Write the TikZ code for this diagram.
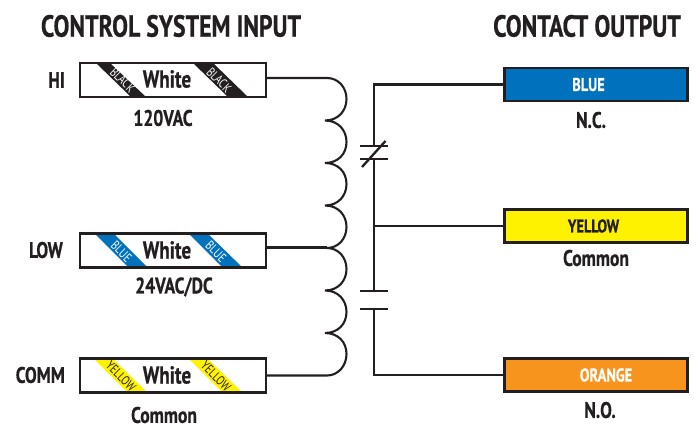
\documentclass[tikz,border=0pt]{standalone}
\usepackage{fontspec}
\setmainfont[FakeStretch=0.78,BoldFeatures={FakeBold=0.6}]{PT Sans}
\definecolor{ink}{HTML}{231F20}
\definecolor{wblue}{HTML}{0071BC}
\definecolor{wyellow}{HTML}{FFF200}
\definecolor{worange}{HTML}{F7941D}
\tikzset{
  wirebox/.style={draw=ink,line width=2.4pt,minimum width=186pt,minimum height=34pt,inner sep=0pt,outer sep=0pt,anchor=center},
  colbox/.style={draw=ink,line width=2.4pt,minimum width=183pt,minimum height=33pt,inner sep=0pt,outer sep=0pt,anchor=center},
  boxlab/.style={text=white,inner sep=0pt,font=\bfseries\fontsize{18.5}{18.5}\selectfont},
  wire/.style={draw=ink,line width=2.1pt},
  heavywire/.style={draw=ink,line width=3pt},
  bar/.style={draw=ink,line width=2.3pt},
  head/.style={text=ink,font=\bfseries\fontsize{30.5}{30.5}\selectfont,inner sep=0pt},
  lab/.style={text=ink,font=\bfseries\fontsize{22.5}{22.5}\selectfont,inner sep=0pt},
  mid/.style={text=ink,font=\bfseries\fontsize{24.5}{24.5}\selectfont,inner sep=0pt},
  stripetext/.style={font=\fontsize{13}{13}\selectfont,rotate=-45,inner sep=0pt},
}
\begin{document}
\begin{tikzpicture}[x=1pt,y=-1pt]
\useasboundingbox (0,0) rectangle (695,427);
\node[head] (h1) at (171,26) {CONTROL SYSTEM INPUT};
\node[head] (h2) at (587,26) {CONTACT OUTPUT};
% input boxes
\node[wirebox] (hi) at (173,80) {};
\node[wirebox] (low) at (173,250.5) {};
\node[wirebox] (comm) at (173,375.5) {};
% stripes
\fill[ink] (96,63) -- (110,63) -- (146,97) -- (131,97) -- cycle;
\fill[ink] (193,63) -- (213,63) -- (248,97) -- (228,97) -- cycle;
\fill[wblue] (95,234) -- (114,234) -- (148,268) -- (129,268) -- cycle;
\fill[wblue] (189,234) -- (208,234) -- (243,268) -- (223,268) -- cycle;
\fill[wyellow] (94,359) -- (113,359) -- (148,393) -- (128,393) -- cycle;
\fill[wyellow] (189,359) -- (208,359) -- (243,393) -- (223,393) -- cycle;
\draw[draw=ink,line width=2.4pt] (hi.north west) rectangle (hi.south east);
\draw[draw=ink,line width=2.4pt] (low.north west) rectangle (low.south east);
\draw[draw=ink,line width=2.4pt] (comm.north west) rectangle (comm.south east);
\node[stripetext,text=white] (s1) at (122.5,80) {BLACK};
\node[stripetext,text=white] (s2) at (219,80) {BLACK};
\node[stripetext,text=white] (s3) at (121.5,251.5) {BLUE};
\node[stripetext,text=white] (s4) at (216,251.5) {BLUE};
\node[stripetext,text=ink] (s5) at (121,376) {YELLOW};
\node[stripetext,text=ink] (s6) at (216,376) {YELLOW};
\node[mid] (w1) at (167,79) {White};
\node[mid] (w2) at (167,250) {White};
\node[mid] (w3) at (167,375) {White};
\node[lab,anchor=east] (lhi) at (65,80) {HI};
\node[lab,anchor=east] (llow) at (63,250) {LOW};
\node[lab,anchor=east] (lcomm) at (65,375) {COMM};
\node[lab] (l120) at (163,118) {120VAC};
\node[lab] (l24) at (174,287) {24VAC/DC};
\node[lab] (lcom) at (164,415) {Common};
% output boxes
\node[colbox,fill=wblue] (blue) at (596,84.5) {};
\node[colbox,fill=wyellow] (yellow) at (596,226) {};
\node[colbox,fill=worange] (orange) at (596,375) {};
\node[boxlab] (tblue) at (588.5,84.5) {BLUE};
\node[boxlab,text=ink] (tyellow) at (593.5,226) {YELLOW};
\node[boxlab] (torange) at (606,375) {ORANGE};
\node[lab] (nc) at (591,120) {N.C.};
\node[lab] (cm) at (596,258) {Common};
\node[lab] (no) at (600,410) {N.O.};
% coil
\coordinate (c0) at (327,78);
\coordinate (c1) at (325,120.5);
\coordinate (c2) at (325,163);
\coordinate (c3) at (325,205.5);
\coordinate (c4) at (327,248);
\coordinate (c5) at (325,290.5);
\coordinate (c6) at (325,333);
\coordinate (c7) at (327,375.5);
\draw[wire] (hi.east |- c0) -- (c0)
  .. controls (338,78) and (346.5,87) .. (346.5,99) .. controls (346.5,111) and (338,120.5) .. (c1)
  .. controls (338,120.5) and (346.5,130) .. (346.5,142) .. controls (346.5,154) and (338,163) .. (c2)
  .. controls (338,163) and (346.5,172) .. (346.5,184) .. controls (346.5,196) and (338,205.5) .. (c3)
  .. controls (338,205.5) and (346.5,215) .. (346.5,227) .. controls (346.5,239) and (338,248) .. (c4)
  .. controls (338,248) and (346.5,257) .. (346.5,269) .. controls (346.5,281) and (338,290.5) .. (c5)
  .. controls (338,290.5) and (346.5,300) .. (346.5,312) .. controls (346.5,324) and (338,333) .. (c6)
  .. controls (338,333) and (346.5,342) .. (346.5,354) .. controls (346.5,366) and (338,375.5) .. (c7)
  -- (comm.east |- c7);
\draw[heavywire] (low.east |- c4) -- (c4);
% contacts
\coordinate (nc1) at (374,146);
\coordinate (nc2) at (374,159);
\coordinate (no1) at (374,291);
\coordinate (no2) at (374,309);
\coordinate (slash1) at (362,167);
\coordinate (slash2) at (385.5,141);
\draw[wire] (blue.west) -| (nc1);
\draw[wire] (nc2) -- (no1);
\draw[wire] (yellow.west) -- (yellow.west -| nc2);
\draw[wire] (no2) |- (orange.west);
\draw[bar] (360,146) -- (387.5,146);
\draw[bar] (360,159) -- (387.5,159);
\draw[bar] (slash1) -- (slash2);
\draw[bar] (360,291) -- (387.5,291);
\draw[bar] (360,309) -- (387.5,309);
\end{tikzpicture}
\end{document}
